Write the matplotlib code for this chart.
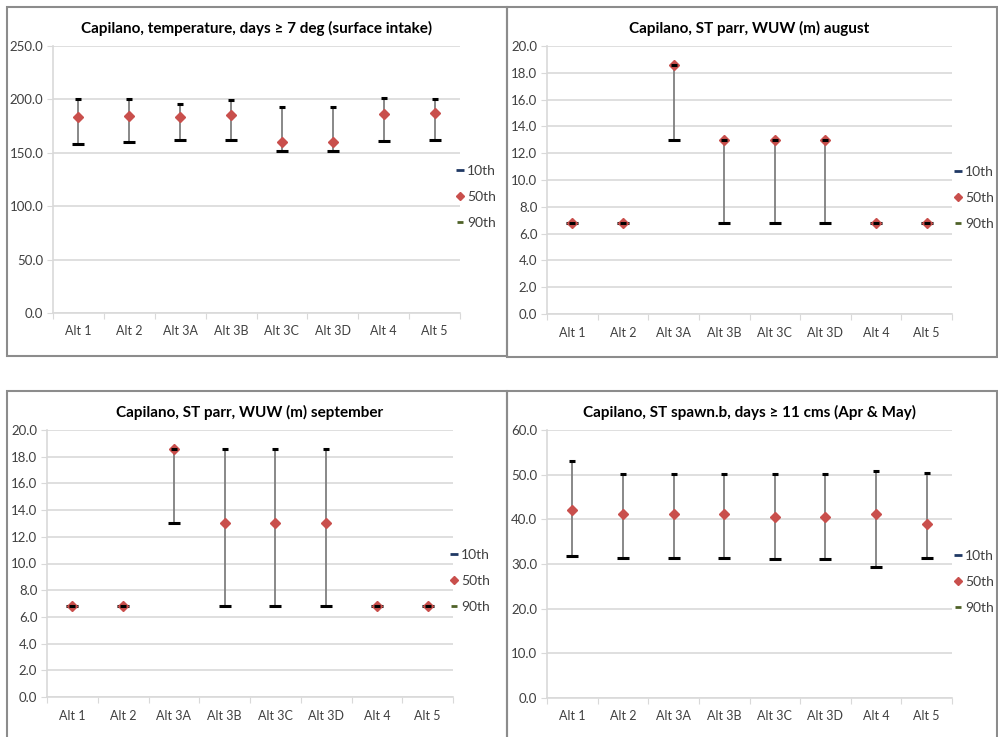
import matplotlib
matplotlib.use("Agg")
import matplotlib.pyplot as plt
from matplotlib.lines import Line2D
from matplotlib.patches import Rectangle

plt.rcParams['font.family'] = ['Lato', 'DejaVu Sans']

# data
alts = ['Alt 1', 'Alt 2', 'Alt 3A', 'Alt 3B', 'Alt 3C', 'Alt 3D', 'Alt 4', 'Alt 5']

temp_p10 = [158.4, 160.2, 162.1, 162.1, 152.1, 152.1, 161.5, 162.1]
temp_p50 = [183.9, 184.5, 183.3, 185.8, 160.5, 160.5, 186.4, 187.7]
temp_p90 = [200.7, 200.7, 195.8, 199.5, 192.6, 192.6, 201.4, 200.7]

aug_p10 = [6.8, 6.8, 13.0, 6.8, 6.8, 6.8, 6.8, 6.8]
aug_p50 = [6.8, 6.8, 18.6, 13.0, 13.0, 13.0, 6.8, 6.8]
aug_p90 = [6.8, 6.8, 18.6, 13.0, 13.0, 13.0, 6.8, 6.8]

sep_p10 = [6.8, 6.8, 13.0, 6.8, 6.8, 6.8, 6.8, 6.8]
sep_p50 = [6.8, 6.8, 18.6, 13.0, 13.0, 13.0, 6.8, 6.8]
sep_p90 = [6.8, 6.8, 18.6, 18.6, 18.6, 18.6, 6.8, 6.8]

spawn_p10 = [31.7, 31.4, 31.4, 31.4, 31.1, 31.1, 29.3, 31.4]
spawn_p50 = [42.1, 41.1, 41.1, 41.1, 40.5, 40.5, 41.1, 39.0]
spawn_p90 = [53.0, 50.1, 50.1, 50.1, 50.1, 50.1, 50.8, 50.4]

titles = ['Capilano, temperature, days \u2265 7 deg (surface intake)',
          'Capilano, ST parr, WUW (m) august',
          'Capilano, ST parr, WUW (m) september',
          'Capilano, ST spawn.b, days \u2265 11 cms (Apr & May)']
y_max = [250, 20, 20, 60]
y_step = [50, 2, 2, 10]

W, H = 998, 737
fig = plt.figure(figsize=(W / 100, H / 100), dpi=100)

# panel frames (pixels: left, top, right, bottom)
frames = [(7, 7, 507, 356), (507, 7, 997, 357), (7, 391, 507, 745), (507, 391, 997, 745)]
for l, t, r, b in frames:
    fig.patches.append(Rectangle((l / W, 1 - b / H), (r - l) / W, (b - t) / H,
                                 transform=fig.transFigure, fill=False,
                                 edgecolor='#8c8c8c', linewidth=1.5))

# plot areas (pixels: left, top, right, bottom)
boxes = [(53, 46, 460, 313), (547, 46, 952, 314), (47, 430, 453, 697), (547, 430, 952, 698)]
legend_x = [461, 959, 455, 959]

series = [(temp_p10, temp_p50, temp_p90), (aug_p10, aug_p50, aug_p90),
          (sep_p10, sep_p50, sep_p90), (spawn_p10, spawn_p50, spawn_p90)]

grid_c = '#d9d9d9'
text_c = '#404040'
x = list(range(len(alts)))

for i, (l, t, r, b) in enumerate(boxes):
    ax = fig.add_axes([l / W, 1 - b / H, (r - l) / W, (b - t) / H])
    p10, p50, p90 = series[i]

    ax.vlines(x, p10, p90, color='#7f7f7f', linewidth=1.3, zorder=2)
    ax.plot(x, p10, linestyle='none', marker='_', markersize=8, mew=2.2, color='black', zorder=3)
    ax.plot(x, p50, linestyle='none', marker='D', markersize=4.6, color='#c94f4c', zorder=4)
    ax.plot(x, p90, linestyle='none', marker='_', markersize=5, mew=2.2, color='black', zorder=5)

    ax.set_xlim(-0.5, len(alts) - 0.5)
    ax.set_ylim(0, y_max[i])
    yt = [k * y_step[i] for k in range(int(y_max[i] / y_step[i]) + 1)]
    ax.set_yticks(yt)
    ax.set_yticklabels([f'{v:.1f}' for v in yt])
    ax.set_xticks([k - 0.5 for k in range(len(alts) + 1)])
    ax.set_xticklabels([])
    ax.set_xticks(x, minor=True)
    ax.set_xticklabels(alts, minor=True)

    ax.grid(axis='y', color=grid_c, linewidth=1.2, zorder=0)
    ax.set_axisbelow(True)
    for s in ['top', 'right']:
        ax.spines[s].set_visible(False)
    for s in ['left', 'bottom']:
        ax.spines[s].set_color(grid_c)
        ax.spines[s].set_linewidth(1.2)
    ax.tick_params(axis='y', length=4, color=grid_c, labelsize=9.5, labelcolor=text_c, pad=3)
    ax.tick_params(axis='x', which='major', length=4, color=grid_c)
    ax.tick_params(axis='x', which='minor', length=0, labelsize=9, labelcolor=text_c, pad=9)

    ax.set_title(titles[i], fontsize=11, fontweight='bold', color='black', pad=9)

    handles = [Line2D([], [], linestyle='none', marker='_', markersize=6, mew=2, color='#1f3864'),
               Line2D([], [], linestyle='none', marker='D', markersize=4, color='#c94f4c'),
               Line2D([], [], linestyle='none', marker='_', markersize=4, mew=2, color='#4f6228')]
    ax.legend(handles, ['10th', '50th', '90th'], loc='center left',
              bbox_to_anchor=((legend_x[i] - 5 - l) / (r - l), 0.434),
              frameon=False, fontsize=10, labelcolor=text_c, handlelength=0.6,
              handletextpad=0.2, labelspacing=1.0, borderpad=0, borderaxespad=0)

fig.savefig('out.png', dpi=100)
